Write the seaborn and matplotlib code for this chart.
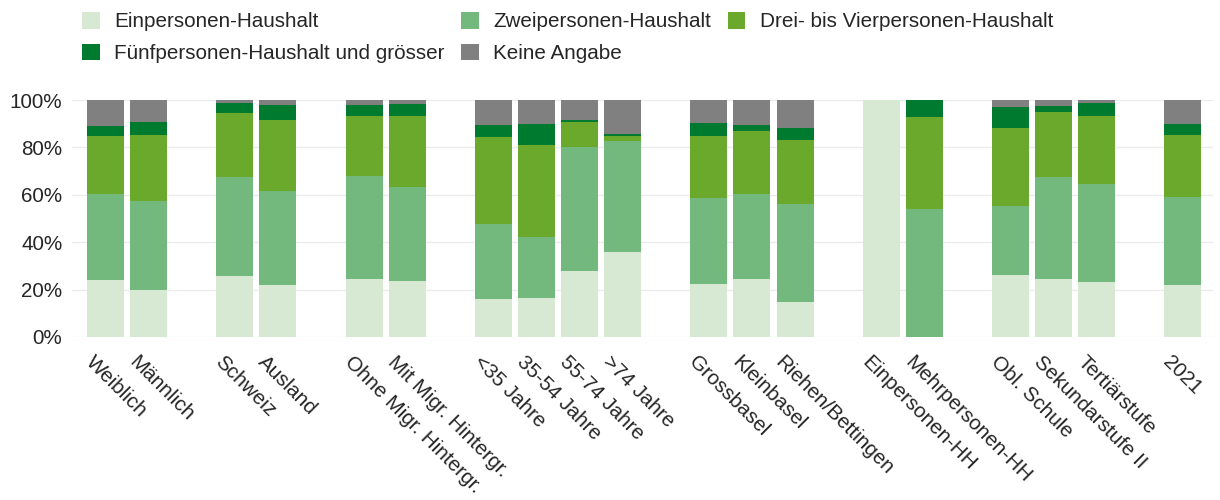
import pandas as pd
import seaborn as sns
import matplotlib.pyplot as plt
from matplotlib.patches import Patch
from matplotlib.ticker import PercentFormatter
from matplotlib.transforms import ScaledTranslation

# categories, grouped; groups separated by an empty slot
groups = [
    ['Weiblich', 'Männlich'],
    ['Schweiz', 'Ausland'],
    ['Ohne Migr. Hintergr.', 'Mit Migr. Hintergr.'],
    ['<35 Jahre', '35-54 Jahre', '55-74 Jahre', '>74 Jahre'],
    ['Grossbasel', 'Kleinbasel', 'Riehen/Bettingen'],
    ['Einpersonen-HH', 'Mehrpersonen-HH'],
    ['Obl. Schule', 'Sekundarstufe II', 'Tertiärstufe'],
    ['2021'],
]
categories = [c for g in groups for c in g]

# shares in percent
ein = [24.2, 19.8, 25.8, 21.8, 24.6, 23.7, 16.2, 16.4, 27.7, 36.0, 22.2, 24.6, 14.7, 100, 0, 26.0, 24.3, 23.2, 22.1]
zwei = [36.3, 37.6, 41.5, 39.9, 43.4, 39.5, 31.4, 25.9, 52.6, 46.6, 36.5, 35.9, 41.5, 0, 54.2, 29.1, 43.0, 41.4, 36.9]
drei = [24.5, 27.9, 27.4, 29.7, 25.1, 30.2, 36.8, 38.7, 10.6, 2.4, 26.1, 26.4, 27.1, 0, 38.6, 33.1, 27.8, 28.5, 26.3]
fuenf = [4.2, 5.4, 3.9, 6.6, 4.9, 4.9, 5.2, 9.0, 0.8, 0.8, 5.5, 2.4, 5.0, 0, 7.2, 8.9, 2.5, 5.8, 4.6]
keine = [10.8, 9.3, 1.4, 2.0, 2.0, 1.7, 10.4, 10.0, 8.3, 14.2, 9.7, 10.7, 11.7, 0, 0, 2.9, 2.4, 1.1, 10.1]

series = ['Einpersonen-Haushalt', 'Zweipersonen-Haushalt', 'Drei- bis Vierpersonen-Haushalt',
          'Fünfpersonen-Haushalt und grösser', 'Keine Angabe']
colors = ['#d7e8d3', '#73b87c', '#6aa92b', '#007a2f', '#808080']

df = pd.DataFrame({'Kategorie': categories, series[0]: ein, series[1]: zwei,
                   series[2]: drei, series[3]: fuenf, series[4]: keine})
cum = df[series].cumsum(axis=1)
cum['Kategorie'] = df['Kategorie']

# order with blank spacer slots between groups
order = []
for i, g in enumerate(groups):
    if i > 0:
        order.append(' ' * i)
    order += g

sns.set_style('white')
plt.rcParams['font.family'] = ['Liberation Sans', 'DejaVu Sans']
fs = 14.9

fig = plt.figure(figsize=(12.2, 5), dpi=100)
ax = fig.add_axes([72 / 1220, 1 - 337 / 500, (1213 - 72) / 1220, 237 / 500])

for s, c in reversed(list(zip(series, colors))):
    sns.barplot(data=cum, x='Kategorie', y=s, order=order, color=c, width=0.86,
                saturation=1, linewidth=0, errorbar=None, ax=ax)

ax.set_xlim(-0.78, 25.7)
ax.set_ylim(0, 100)
ax.set_yticks([0, 20, 40, 60, 80, 100])
ax.yaxis.set_major_formatter(PercentFormatter(100, decimals=0))
ax.set_xlabel('')
ax.set_ylabel('')
ax.yaxis.grid(True, color='#ebebeb', lw=1)
ax.set_axisbelow(True)
for sp in ax.spines.values():
    sp.set_visible(False)
ax.tick_params(axis='both', length=0, labelsize=fs)
ax.tick_params(axis='y', pad=7)
ax.tick_params(axis='x', pad=11)
shift = ScaledTranslation(-10 / 100, 0, fig.dpi_scale_trans)
for lab in ax.get_xticklabels():
    lab.set_rotation(-45)
    lab.set_rotation_mode('anchor')
    lab.set_ha('left')
    lab.set_va('top')
    lab.set_transform(lab.get_transform() + shift)

handles = [Patch(facecolor=c, edgecolor='none') for c in colors]
idx = [0, 3, 1, 4, 2]
fig.legend([handles[i] for i in idx], [series[i] for i in idx], ncol=3,
           loc='upper left', bbox_to_anchor=(82 / 1220, 1 - 12 / 500),
           frameon=False, borderpad=0, borderaxespad=0, handlelength=0.85,
           handleheight=0.85, handletextpad=0.7, columnspacing=0.8,
           labelspacing=0.6, fontsize=fs)

fig.savefig('out.png', dpi=100)
